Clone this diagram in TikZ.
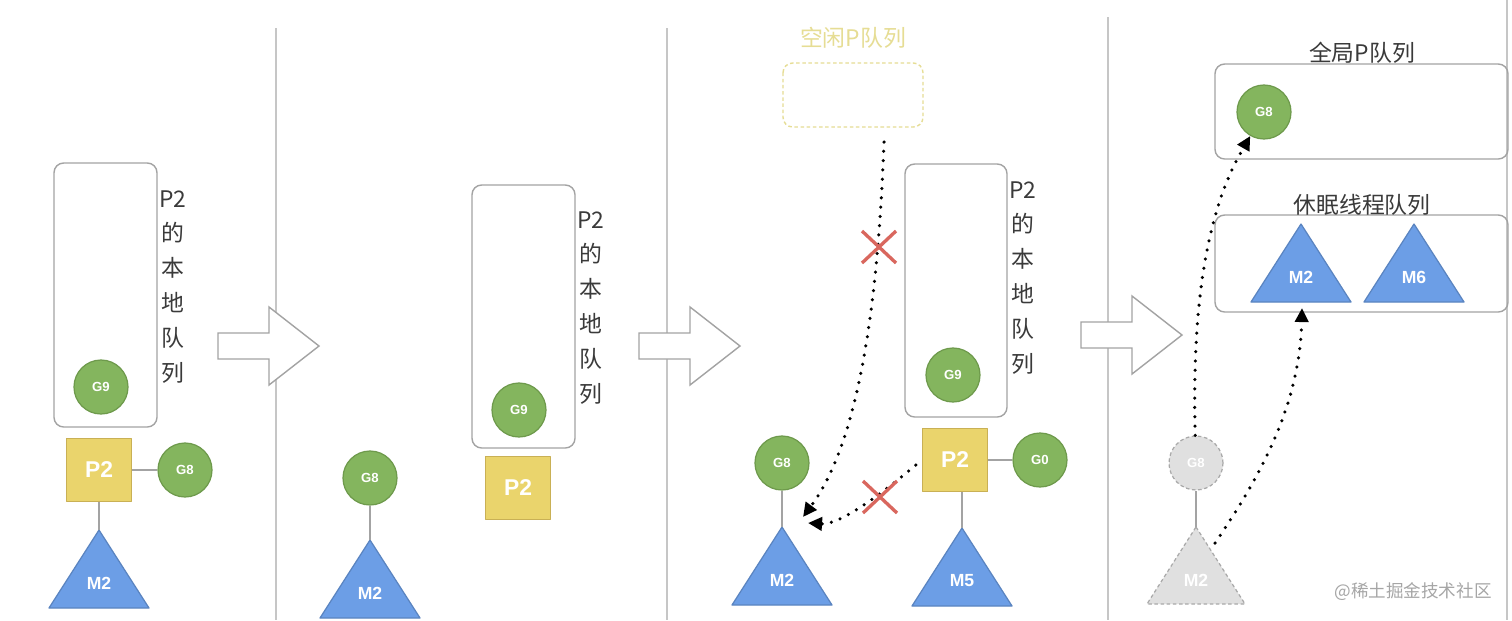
\documentclass[tikz,border=0pt]{standalone}
\usepackage{fontspec}
\setmainfont{Liberation Sans}
\newfontfamily\cjk{Noto Sans CJK SC}
\usetikzlibrary{arrows.meta}
\definecolor{gfill}{HTML}{84B55E}
\definecolor{gline}{HTML}{6E9A4C}
\definecolor{pfill}{HTML}{EAD46C}
\definecolor{pline}{HTML}{C9B055}
\definecolor{mfill}{HTML}{6C9EE6}
\definecolor{mline}{HTML}{5A84C0}
\definecolor{ghost}{HTML}{E0E0E0}
\definecolor{ghostline}{HTML}{A9A9A9}
\definecolor{boxline}{HTML}{A3A3A3}
\definecolor{divider}{HTML}{C6C6C6}
\definecolor{idle}{HTML}{E6DD94}
\definecolor{cross}{HTML}{D9675E}
\definecolor{ink}{HTML}{3A3A3A}
\definecolor{mark}{HTML}{A6A6A6}

\tikzset{
  gnode/.style={circle,fill=gfill,draw=gline,line width=0.7pt,minimum size=1.08cm,
    inner sep=0pt,text=white,font=\fontsize{7.5}{8}\selectfont\bfseries},
  pnode/.style={rectangle,fill=pfill,draw=pline,line width=0.7pt,minimum width=1.3cm,
    minimum height=1.26cm,inner sep=0pt,text=white,font=\fontsize{13}{15}\selectfont\bfseries},
  mtext/.style={text=white,inner sep=0pt,font=\fontsize{10}{12}\selectfont\bfseries},
  qbox/.style={draw=boxline,line width=0.8pt,rounded corners=5.5pt},
  vlabel/.style={align=center,inner sep=0pt,text=ink,font=\cjk\fontsize{13}{19.8}\selectfont},
  title/.style={inner sep=0pt,text=ink,font=\cjk\fontsize{13}{15}\selectfont},
  link/.style={draw=boxline,line width=0.8pt},
  dotarrow/.style={line width=2pt,line cap=round,dash pattern=on 0pt off 5.3pt,
    -{Triangle[length=8pt,width=7.5pt]}},
  bigarrow/.style={fill=white,draw=boxline,line width=0.8pt,line join=miter},
  xmark/.style={draw=cross,line width=1.9pt},
}

\begin{document}
\begin{tikzpicture}[x=0.02cm,y=-0.02cm,line join=round]
  % canvas 1512 x 620, y grows downwards
  \useasboundingbox (0,0) rectangle (1512,620);
  \fill[white] (0,0) rectangle (1512,620);

  % ---- panel dividers ----
  \draw[divider,line width=1.1pt] (276,28) -- (276,620);
  \draw[divider,line width=1.1pt] (667,28) -- (667,620);
  \draw[divider,line width=1.1pt] (1108,17) -- (1108,620);
  \draw[divider,line width=1.1pt] (1507,0) -- (1507,620);

  % ---- block arrows between panels ----
  \foreach \ax/\ay in {218/346,639/346,1081/335}{
    \filldraw[bigarrow] (\ax,\ay-13) -- ++(51,0) -- ++(0,-26) -- ++(50,39)
      -- ++(-50,39) -- ++(0,-26) -- ++(-51,0) -- cycle;
  }

  % ---- queue boxes ----
  \draw[qbox] (54,163) rectangle (157,427);
  \draw[qbox] (472,185) rectangle (575,448);
  \draw[qbox] (905,164) rectangle (1007,417);
  \draw[qbox] (1215,64) rectangle (1508,159);
  \draw[qbox] (1215,215) rectangle (1508,312);
  \draw[draw=idle,line width=0.8pt,rounded corners=5.5pt,dash pattern=on 2pt off 1.5pt]
    (783,63) rectangle (923,127);

  % ---- threads M (triangles) ----
  \foreach \n/\x/\y/\t in {m2a/99/530/M2,m2b/370/540/M2,m2c/782/527/M2,
      m5c/962/528/M5,m2d/1301/224/M2,m6d/1414/224/M6}{
    \filldraw[fill=mfill,draw=mline,line width=0.7pt] (\x,\y) -- ++(50,78) -- ++(-100,0) -- cycle;
    \coordinate (\n-top) at (\x,\y);
    \node[mtext] (\n) at (\x,\y+53) {\t};
  }
  % ghost thread (left the P)
  \filldraw[fill=ghost,draw=ghostline,line width=0.7pt,dash pattern=on 2pt off 1.5pt]
    (1196,527) -- ++(49,77) -- ++(-98,0) -- cycle;
  \coordinate (m2e-top) at (1196,527);
  \node[mtext] (m2e) at (1196,580) {M2};

  % ---- panel 1 ----
  \node[gnode] (g9a) at (101,387) {G9};
  \node[pnode] (p2a) at (99,470) {P2};
  \node[gnode] (g8a) at (185,470) {G8};
  \draw[link] (p2a) -- (g8a);
  \draw[link] (p2a.south) -- (m2a-top);
  \node[vlabel,anchor=north] (lab1) at (173,190) {P2\\的\\本\\地\\队\\列};

  % ---- panel 2 ----
  \node[gnode] (g8b) at (370,478) {G8};
  \draw[link] (g8b.south) -- (m2b-top);
  \node[gnode] (g9b) at (519,410) {G9};
  \node[pnode] (p2b) at (518,488) {P2};
  \node[vlabel,anchor=north] (lab2) at (591,211) {P2\\的\\本\\地\\队\\列};

  % ---- panel 3 ----
  \node[title,text=idle] (idlet) at (853,38) {空闲P队列};
  \node[gnode] (g8c) at (782,463) {G8};
  \draw[link] (g8c.south) -- (m2c-top);
  \node[gnode] (g9c) at (953,375) {G9};
  \node[pnode] (p2c) at (955,460) {P2};
  \node[gnode] (g0c) at (1040,460) {G0};
  \draw[link] (p2c) -- (g0c);
  \draw[link] (p2c.south -| m5c-top) -- (m5c-top);
  \node[vlabel,anchor=north] (lab3) at (1023,181) {P2\\的\\本\\地\\队\\列};

  \coordinate (idle-out) at (884,142);
  \coordinate (m2c-in1) at (803,517);
  \coordinate (m2c-in2) at (808,523);
  \draw[dotarrow] (idle-out) .. controls (878,300) and (860,440) .. (m2c-in1);
  \draw[dotarrow,shorten <=4.5pt] (p2c.west) .. controls (880,495) and (840,525) .. (m2c-in2);
  % refused hand-offs
  \draw[xmark] (879,247) +(-17,-16) -- +(17,16) +(-17,16) -- +(17,-16);
  \draw[xmark] (880,497) +(-17,-16) -- +(17,16) +(-17,16) -- +(17,-16);

  % ---- panel 4 ----
  \node[title] (globalt) at (1362,53) {全局P队列};
  \node[title] (sleept) at (1362,205) {休眠线程队列};
  \node[gnode] (g8d) at (1264,112) {G8};
  \node[gnode,fill=ghost,draw=ghostline,dash pattern=on 2pt off 1.5pt] (g8e) at (1196,463) {G8};
  \draw[link] (g8e.south) -- (m2e-top);

  \coordinate (ghost-out) at (1215,543);
  \coordinate (m2d-in) at (1302,308);
  \draw[dotarrow] (g8e) .. controls (1190,250) and (1225,180) .. (g8d);
  \draw[dotarrow] (ghost-out) .. controls (1265,470) and (1300,400) .. (m2d-in);

  \node[inner sep=0pt,text=mark,font=\cjk\fontsize{10}{12}\selectfont] (wm) at (1413,592) {@稀土掘金技术社区};
\end{tikzpicture}
\end{document}
